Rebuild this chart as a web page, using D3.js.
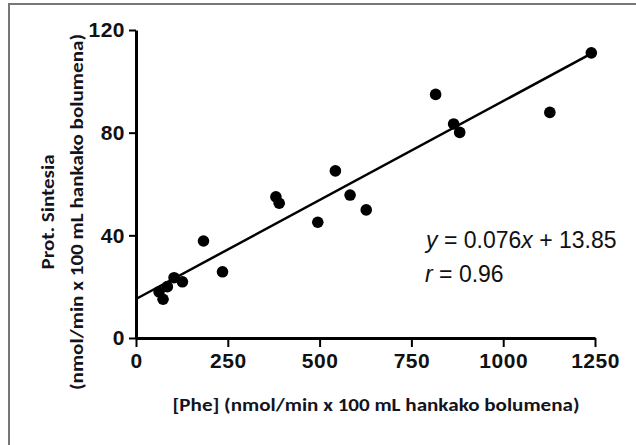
<!DOCTYPE html>
<html>
<head>
<meta charset="utf-8">
<script src="https://cdn.jsdelivr.net/npm/d3@7"></script>
<style>
  body { margin: 0; background: #fff; }
  svg { display: block; }
</style>
</head>
<body>
<svg id="chart" width="636" height="445"></svg>
<script>
// values
const phe = [62.8, 73.7, 85.4, 103.7, 126.4, 183.8, 235.6, 381, 390, 495, 543, 583, 627, 816, 865, 881.5, 1127, 1240];
const prot = [18, 15.1, 20, 23.5, 21.9, 37.8, 25.8, 55, 52.5, 45.1, 65.1, 55.7, 49.9, 94.9, 83.4, 80.1, 87.9, 111.1];
const fitX = [0, 1232];
const fitY = [15.2, 110.2];
const xTicks = [0, 250, 500, 750, 1000, 1250];
const yTicks = [0, 40, 80, 120];

const svg = d3.select('#chart');

// grey frame
svg.append('rect')
    .attr('x', 9).attr('y', 4)
    .attr('width', 640).attr('height', 450)
    .attr('fill', 'none')
    .attr('stroke', '#777')
    .attr('stroke-width', 2);

const x = d3.scaleLinear().domain([0, 1250]).range([136, 595]);
const y = d3.scaleLinear().domain([0, 120]).range([338, 30]);

// x axis
const gx = svg.append('g')
    .attr('transform', 'translate(0,' + y(0) + ')')
    .call(d3.axisBottom(x).tickValues(xTicks).tickFormat(d3.format('d'))
        .tickSize(9).tickPadding(6).tickSizeOuter(0));
// y axis
const gy = svg.append('g')
    .attr('transform', 'translate(' + x(0) + ',0)')
    .call(d3.axisLeft(y).tickValues(yTicks).tickFormat(d3.format('d'))
        .tickSize(7).tickPadding(4).tickSizeOuter(0));

[gx, gy].forEach(function (g) {
    g.select('.domain').attr('stroke', '#000').attr('stroke-width', 3);
    g.selectAll('.tick line').attr('stroke', '#000').attr('stroke-width', 2);
    g.selectAll('.tick text')
        .attr('fill', '#111')
        .attr('font-family', '"Liberation Sans", Arial, sans-serif')
        .attr('font-weight', 'bold')
        .attr('font-size', 21)
        .attr('letter-spacing', 0.5);
});

// fit line
svg.append('line')
    .attr('x1', x(fitX[0])).attr('y1', y(fitY[0]))
    .attr('x2', x(fitX[1])).attr('y2', y(fitY[1]))
    .attr('stroke', '#000')
    .attr('stroke-width', 2.5);

// points
svg.append('g')
    .selectAll('circle')
    .data(phe)
    .join('circle')
    .attr('cx', d => x(d))
    .attr('cy', (d, i) => y(prot[i]))
    .attr('r', 5.8)
    .attr('fill', '#000');

// equation
function eqText(px, py) {
    return svg.append('text')
        .attr('x', px).attr('y', py)
        .attr('fill', '#111')
        .attr('font-family', '"Liberation Sans", Arial, sans-serif')
        .attr('font-size', 23);
}
const eq = eqText(426, 248);
eq.append('tspan').attr('font-style', 'italic').text('y');
eq.append('tspan').text(' = 0.076');
eq.append('tspan').attr('font-style', 'italic').text('x');
eq.append('tspan').text(' + 13.85');

const rr = eqText(425, 282);
rr.append('tspan').attr('font-style', 'italic').text('r');
rr.append('tspan').text(' = 0.96');

// axis titles
function title(sel, len) {
    return sel.append('text')
        .attr('text-anchor', 'middle')
        .attr('fill', '#141420')
        .attr('font-family', 'Carlito, "Liberation Sans Narrow", Lato, sans-serif')
        .attr('font-weight', 'bold')
        .attr('font-size', 18)
        .attr('textLength', len)
        .attr('lengthAdjust', 'spacingAndGlyphs');
}
title(svg, 407)
    .attr('x', 376).attr('y', 411)
    .text('[Phe] (nmol/min x 100 mL hankako bolumena)');

const yt = svg.append('g')
    .attr('transform', 'translate(0,212) rotate(-90)');
title(yt, 115)
    .attr('x', 0).attr('y', 54)
    .text('Prot. Sintesia');
title(yt, 356)
    .attr('x', 0).attr('y', 83)
    .text('(nmol/min x 100 mL hankako bolumena)');
</script>
</body>
</html>
